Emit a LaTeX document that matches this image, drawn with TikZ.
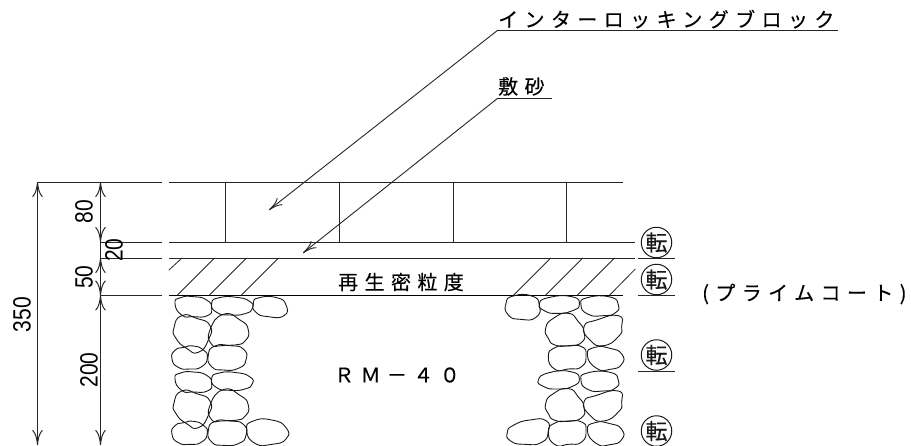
\documentclass[tikz,border=0pt]{standalone}
\usepackage{fontspec}
\usetikzlibrary{arrows.meta}
\newfontfamily\jpf[LetterSpace=32,FakeBold=0.25]{Noto Sans CJK JP}
\newfontfamily\jpn[FakeBold=0.35]{Noto Sans CJK JP}
\setmainfont{Liberation Sans}
\tikzset{
  base/.style={line width=1pt,black!85},
  dimline/.style={line width=1pt,black!85,{To[length=15pt,width=10.5pt]}-{To[length=15pt,width=10.5pt]}},
  leader/.style={line width=0.9pt,black!85,-{To[length=14pt,width=9pt]}},
  stone/.style={line width=0.9pt,black!90},
  hatch/.style={line width=0.8pt,black!85},
  jplabel/.style={inner sep=0pt,font=\fontsize{20}{22}\selectfont\jpf},
  dimtext/.style={inner sep=0pt,rotate=90,font=\fontsize{25}{27}\selectfont},
  ten/.style={circle,draw,line width=1pt,black!90,minimum size=30.5pt,inner sep=0pt,font=\fontsize{22}{22}\selectfont\jpn}
}
\newcommand\stonepath[2][]{\draw[stone,#1] plot[smooth cycle,tension=1] coordinates {#2};}
\newcommand\narrow[1]{\scalebox{.84}[1]{#1}}
\newcommand\stA{(100,35)(140,45)(155,70)(142,92)(100,95)(65,90)(45,55)(62,38)}
\newcommand\stB{(230,37)(270,50)(277,70)(255,86)(210,90)(170,82)(155,55)(178,38)}
\newcommand\stD{(110,100)(150,122)(145,165)(115,202)(80,190)(48,160)(42,128)(65,92)}
\newcommand\stE{(240,105)(265,135)(255,168)(225,180)(185,182)(155,178)(150,135)(190,88)}
\newcommand\stF{(100,183)(130,195)(142,218)(125,245)(90,252)(55,247)(36,222)(45,196)(72,187)}
\newcommand\stG{(210,182)(250,192)(258,225)(235,250)(190,255)(155,245)(145,210)(165,183)}
\newcommand\rtC{(330,36)(355,60)(345,84)(310,92)(265,88)(243,60)(262,38)}
\newcommand\rtD{(205,85)(235,110)(252,140)(245,172)(205,182)(165,180)(145,160)(137,130)(160,100)}
\newcommand\rtE{(355,92)(365,125)(355,155)(310,182)(270,165)(252,125)(290,105)}
\newcommand\rtF{(205,183)(245,185)(258,210)(245,245)(205,252)(165,253)(145,215)(165,188)}
\newcommand\rtG{(330,190)(365,207)(365,238)(330,253)(290,250)(262,210)(285,187)}
\begin{document}
\begin{tikzpicture}[x=1pt,y=-1pt]
\useasboundingbox (0,0) rectangle (911,445);
% layer lines
\draw[base] (37,182) -- (162,182);
\draw[base] (100,242) -- (162,242);
\draw[base] (100,258) -- (162,258);
\draw[base] (100,295.5) -- (162,295.5);
\draw[base] (169,182) -- (623,182);
\draw[base] (169,242) -- (635,242);
\draw[base] (169,258) -- (635,258);
\draw[line width=1.1pt,black] (169,295.5) -- (623,295.5);
% block joints
\foreach \x in {225.5,339,453,566} \draw[base] (\x,182) -- (\x,242);
% hatching
\draw[hatch] (169,270) -- (182,258);
\foreach \x in {177,209,241} \draw[hatch] (\x,295.5) -- (\x+37.5,258);
\foreach \x in {513.3,545.3,577} \draw[hatch] (\x,295.5) -- (\x+37.5,258);
\draw[hatch] (609.3,295.5) -- (635.3,269);
% dimensions
\coordinate (d0) at (37.5,182);
\coordinate (d1) at (37.5,445);
\coordinate (e0) at (100.5,182);
\coordinate (e1) at (100.5,242);
\coordinate (e2) at (100.5,258);
\coordinate (e3) at (100.5,295.5);
\coordinate (e4) at (100.5,445);
\draw[dimline] (d0) -- (d1);
\draw[dimline] (e0) -- (e1);
\draw[base] (e1) -- (e2);
\draw[dimline] (e2) -- (e3);
\draw[dimline] (e3) -- (e4);
\node[dimtext] (t350) at (22,314.5) {\narrow{350}};
\node[dimtext] (t80) at (84,211.5) {\narrow{80}};
\node[dimtext] (t20) at (114,250) {\narrow{20}};
\node[dimtext] (t50) at (84,277) {\narrow{50}};
\node[dimtext] (t200) at (89,370) {\narrow{200}};
% left stones
\begin{scope}[shift={(160,285)},x=0.3333pt,y=-0.3333pt]
\stonepath{\stA}\stonepath{\stB}
\stonepath{(350,38)(378,60)(372,92)(325,95)(288,82)(280,55)(298,38)}
\stonepath{\stD}\stonepath{\stE}\stonepath{\stF}\stonepath{\stG}
\begin{scope}[shift={(0,226)}]
\stonepath{\stA}\stonepath{\stB}\stonepath{\stD}\stonepath{\stE}\stonepath{\stF}\stonepath{\stG}
\end{scope}
\stonepath{(335,405)(378,428)(378,462)(335,478)(285,475)(260,435)(280,408)}
\end{scope}
% right stones
\begin{scope}[shift={(500,285)},x=0.3333pt,y=-0.3333pt]
\stonepath{(95,33)(118,60)(108,97)(62,103)(25,90)(18,55)(40,33)}
\stonepath{(215,35)(238,58)(215,78)(170,85)(135,78)(118,58)(145,38)}
\stonepath{\rtC}\stonepath{\rtD}\stonepath{\rtE}\stonepath{\rtF}\stonepath{\rtG}
\stonepath{(212,260)(238,282)(215,305)(170,312)(132,305)(115,285)(148,263)}
\begin{scope}[shift={(0,226)}]
\stonepath{\rtC}\stonepath{\rtD}\stonepath{\rtE}\stonepath{\rtF}\stonepath{\rtG}
\end{scope}
\stonepath{(90,405)(138,407)(145,440)(125,472)(75,478)(32,468)(22,442)(42,420)}
\end{scope}
% labels with leaders
\node[jplabel,anchor=base west] (lblock) at (498,27) {インターロッキングブロック};
\coordinate (lb0) at (838,30);
\coordinate (lb1) at (498,30);
\coordinate (lb2) at (269,210);
\draw[base,line width=0.9pt] (lb0) -- (lb1);
\draw[leader] (lb1) -- (lb2);
\node[jplabel,anchor=base west] (lsand) at (498,94) {敷砂};
\coordinate (ls0) at (552,98);
\coordinate (ls1) at (498,98);
\coordinate (ls2) at (303,253);
\draw[base,line width=0.9pt] (ls0) -- (ls1);
\draw[leader] (ls1) -- (ls2);
\node[jplabel] (mix) at (401,282) {再生密粒度};
\node[jplabel] (rm) at (397,375) {ＲＭ－４０};
\node[jplabel,anchor=west] (prime) at (702,294) {(プライムコート)};
% circled marks
\node[ten] (k1) at (656.5,242.5) {転};
\node[ten] (k2) at (656.5,279.5) {転};
\node[ten] (k3) at (656.5,355) {転};
\node[ten] (k4) at (656.5,431) {転};
\coordinate (u1a) at (638,258); \coordinate (u1b) at (675,258);
\coordinate (u2a) at (638,295.5); \coordinate (u2b) at (675,295.5);
\coordinate (u3a) at (638,371); \coordinate (u3b) at (675,371);
\draw[base] (u1a) -- (u1b);
\draw[base] (u2a) -- (u2b);
\draw[base] (u3a) -- (u3b);
\end{tikzpicture}
\end{document}
